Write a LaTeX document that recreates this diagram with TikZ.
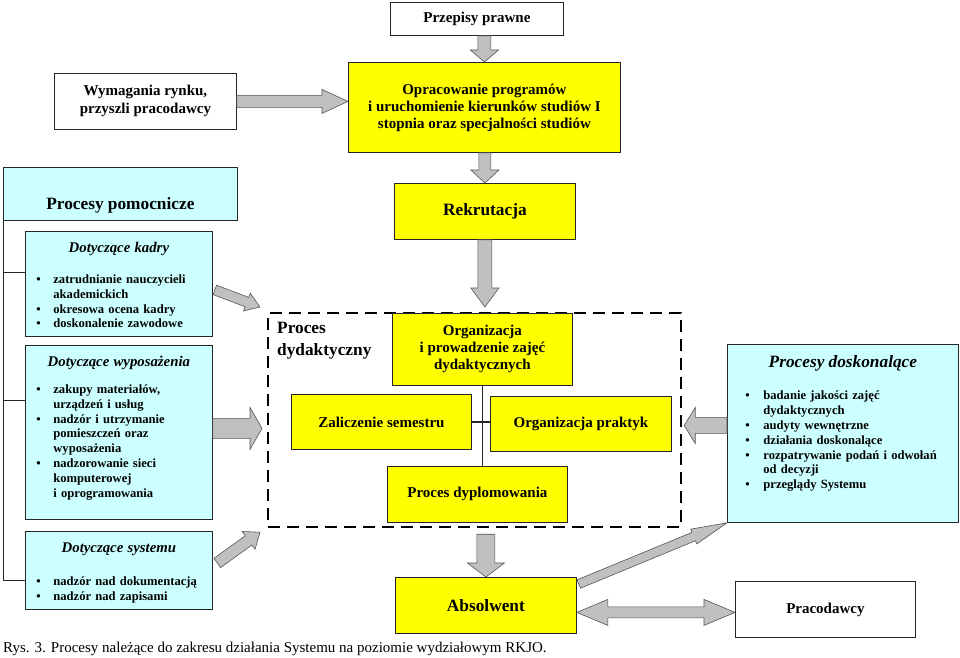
\documentclass[tikz,border=0pt]{standalone}
\usepackage{fontspec}
\setmainfont{Liberation Serif}
\usetikzlibrary{calc}

\definecolor{boxyellow}{HTML}{FFFF00}
\definecolor{boxcyan}{HTML}{CCFFFF}
\definecolor{arrowgray}{HTML}{C0C0C0}
\definecolor{arrowedge}{HTML}{555555}

% bullet items inside the cyan boxes
\newlength{\pktb}
\newlength{\pktt}
\setlength{\pktb}{11pt}
\setlength{\pktt}{28pt}
\newcommand{\pkt}[1]{\par\hangindent=\pktt\hangafter=1\noindent
  \hbox to \pktt{\hskip\pktb\textbullet\hss}#1\par}
\newcommand{\naglowek}[1]{{\fontsize{14.8}{17}\selectfont\itshape\centering #1\par}}

% grey block arrows: from, to, shaft half width, head half width, head length
\newcommand{\blockarrow}[5]{%
  \filldraw[fatarrow] let \p1=(#1), \p2=(#2),
    \n1={atan2(\y2-\y1,\x2-\x1)}, \n2={veclen(\x2-\x1,\y2-\y1)} in
    [shift={(\p1)}, rotate=\n1]
    (0pt,#3pt) -- ({\n2-#5pt},#3pt) -- ({\n2-#5pt},#4pt) -- (\n2,0pt)
    -- ({\n2-#5pt},-#4pt) -- ({\n2-#5pt},-#3pt) -- (0pt,-#3pt) -- cycle;}
\newcommand{\blockdarrow}[5]{%
  \filldraw[fatarrow] let \p1=(#1), \p2=(#2),
    \n1={atan2(\y2-\y1,\x2-\x1)}, \n2={veclen(\x2-\x1,\y2-\y1)} in
    [shift={(\p1)}, rotate=\n1]
    (0pt,0pt) -- (#5pt,#4pt) -- (#5pt,#3pt) -- ({\n2-#5pt},#3pt)
    -- ({\n2-#5pt},#4pt) -- (\n2,0pt) -- ({\n2-#5pt},-#4pt)
    -- ({\n2-#5pt},-#3pt) -- (#5pt,-#3pt) -- (#5pt,-#4pt) -- cycle;}

\begin{document}
\begin{tikzpicture}[x=1pt,y=-1pt,
    font=\fontsize{15}{17}\selectfont\bfseries,
    whitebox/.style={draw=black!85, line width=0.8pt, fill=white,
        rectangle, align=center, anchor=north west},
    yellowbox/.style={whitebox, fill=boxyellow},
    cyanbox/.style={whitebox, fill=boxcyan},
    listbox/.style={cyanbox, text width=187pt, inner xsep=0pt,
        inner ysep=6pt, align=left, text height=15pt,
        font=\fontsize{12.6}{14.8}\selectfont\bfseries},
    bigtext/.style={font=\fontsize{17.3}{21}\selectfont\bfseries},
    fatarrow/.style={fill=arrowgray, draw=arrowedge, line width=0.6pt},
    branch/.style={draw=black!85, line width=0.8pt}]

\useasboundingbox[fill=white] (0,0) rectangle (960,657);

% Top row
\node[whitebox,
    minimum width=173pt,
    minimum height=33pt] (block1) at (390,2) {Przepisy prawne};

\node[whitebox,
    minimum width=182pt,
    minimum height=56pt,
    font=\fontsize{15}{18}\selectfont\bfseries] (block2) at (54,73)
    {Wymagania rynku,\\ przyszli pracodawcy};

\node[yellowbox,
    minimum width=272pt,
    minimum height=90pt] (block3) at (348,62)
    {Opracowanie programów\\ i uruchomienie kierunków studiów I\\ stopnia oraz specjalności studiów};

\node[yellowbox, bigtext,
    minimum width=181pt,
    minimum height=56pt] (block4) at (394,183) {Rekrutacja};

% Procesy pomocnicze
\node[cyanbox, bigtext,
    minimum width=234pt,
    inner ysep=0pt,
    text height=42pt,
    text depth=11pt] (block5) at (3,167) {Procesy pomocnicze};

\node[listbox, text depth=78pt] (block6) at (25,231) {%
    \naglowek{Dotyczące kadry}\vspace{16.2pt}
    \pkt{zatrudnianie nauczycieli\newline akademickich}
    \pkt{okresowa ocena kadry}
    \pkt{doskonalenie zawodowe}};

\node[listbox, text depth=147pt] (block7) at (25,345) {%
    \naglowek{Dotyczące wyposażenia}\vspace{12.2pt}
    \pkt{zakupy materiałów,\newline urządzeń i usług}
    \pkt{nadzór i utrzymanie\newline pomieszczeń oraz\newline wyposażenia}
    \pkt{nadzorowanie sieci\newline komputerowej\newline i oprogramowania}};

\node[listbox, text depth=51pt] (block8) at (25,531) {%
    \naglowek{Dotyczące systemu}\vspace{18.2pt}
    \pkt{nadzór nad dokumentacją}
    \pkt{nadzór nad zapisami}};

\draw[branch] (block5.south west) |- ($(block8.west)+(0,-10pt)$);
\draw[branch] ($(block6.west)+(0,11.5pt)$) -| (block5.south west);
\draw[branch] ($(block7.west)+(0,32pt)$) -| (block5.south west);

% Proces dydaktyczny
\node[draw, dashed,
    line width=2.2pt,
    dash pattern=on 12pt off 7pt,
    rectangle,
    anchor=north west,
    minimum width=413pt,
    minimum height=214pt] (block9) at (267,312) {};

\node[anchor=north west, inner sep=0pt, align=left,
    font=\fontsize{17.3}{22}\selectfont\bfseries] (label9) at (277,322)
    {Proces\\ dydaktyczny};

\node[yellowbox,
    minimum width=180pt,
    minimum height=72pt] (block10) at (392,313)
    {Organizacja\\ i prowadzenie zajęć\\ dydaktycznych};

\node[yellowbox,
    minimum width=180pt,
    minimum height=55pt] (block11) at (291,394) {Zaliczenie semestru};

\node[yellowbox,
    minimum width=181pt,
    minimum height=55pt] (block12) at (490,396) {Organizacja praktyk};

\node[yellowbox,
    minimum width=180pt,
    minimum height=56pt] (block13) at (387,466) {Proces dyplomowania};

\draw[branch, line width=1.4pt] (block10.south) -- (block10.south |- block13.north);
\draw[branch, line width=1.4pt] (block11.east) -- (block11.east -| block12.west);

% Procesy doskonalace
\node[listbox, text width=231pt,
    text height=17.5pt,
    text depth=148.5pt] (block14) at (727,344) {%
    \setlength{\pktb}{18pt}\setlength{\pktt}{36pt}%
    {\fontsize{17.3}{21}\selectfont\itshape\centering Procesy doskonalące\par}\vspace{17.2pt}
    \pkt{badanie jakości zajęć\newline dydaktycznych}
    \pkt{audyty wewnętrzne}
    \pkt{działania doskonalące}
    \pkt{rozpatrywanie podań i odwołań\newline od decyzji}
    \pkt{przeglądy Systemu}};

% Bottom row
\node[yellowbox, bigtext,
    minimum width=181pt,
    minimum height=56pt] (block15) at (395,577) {Absolwent};

\node[whitebox,
    minimum width=180pt,
    minimum height=56pt] (block16) at (735,581) {Pracodawcy};

\node[anchor=base west, inner sep=0pt,
    font=\fontsize{15}{17}\selectfont] (caption) at (3,652)
    {Rys. 3. Procesy należące do zakresu działania Systemu na poziomie wydziałowym RKJO.};

% Arrows
\blockarrow{block3.north |- block1.south}{block3.north}{6.5}{14}{12}
\blockarrow{block2.east}{block2.east -| block3.west}{6}{12}{26}
\blockarrow{block4.north |- block3.south}{block4.north}{6}{14}{13}
\blockarrow{block4.south}{$(block4.south |- block10.north)+(0,6pt)$}{7}{14}{19}
\blockarrow{$(block6.east)+(2pt,-6pt)$}{$(block9.north west)+(-7pt,5pt)$}{5}{9.5}{14}
\blockarrow{$(block7.east)+(0,4pt)$}{$(block9.west |- block7.east)+(-5pt,4pt)$}{10}{21}{12}
\blockarrow{$(block8.east)+(4.5pt,7.5pt)$}{$(block9.south west)+(-7pt,-4pt)$}{5.7}{11}{14}
\blockarrow{$(block14.west)+(0,8pt)$}{$(block9.east |- block14.west)+(2pt,8pt)$}{8}{18}{11}
\blockarrow{$(block15.north |- block9.south)+(0,-6pt)$}{block15.north}{9}{18.5}{14}
\blockarrow{$(block15.north east)+(2pt,-7pt)$}{block14.south west}{4.5}{8}{36}
\blockdarrow{$(block15.east)+(0,-7pt)$}{$(block16.west |- block15.east)+(0,-7pt)$}{5.5}{13}{31}

\end{tikzpicture}
\end{document}
